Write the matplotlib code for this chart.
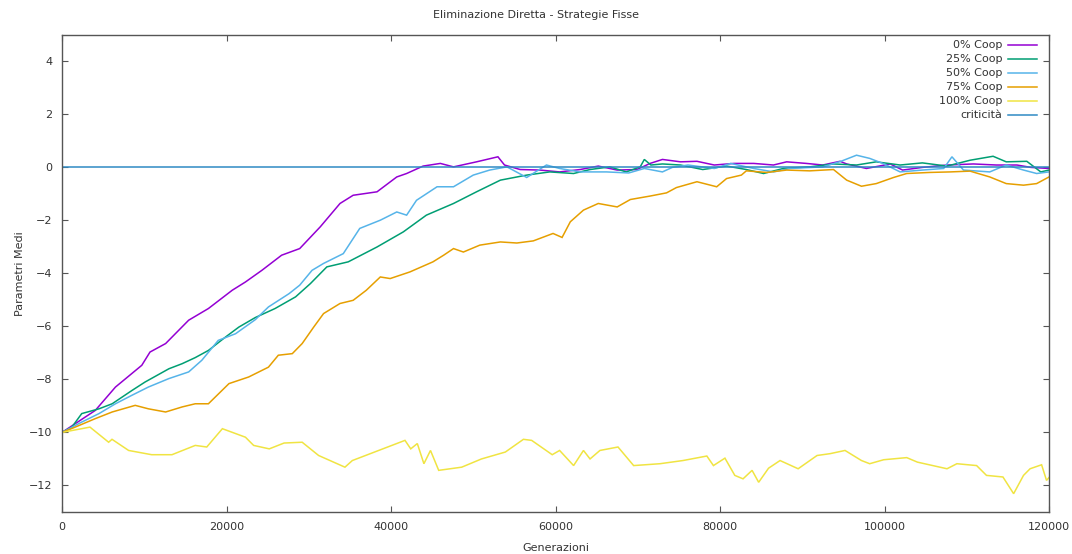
import matplotlib
matplotlib.use("Agg")
import matplotlib.pyplot as plt

# average parameter per generation, one series per share of cooperators
gen_0 = [0, 4050, 6500, 9700, 10700, 12600, 15400, 17800, 20700, 22300, 24300, 26700, 28900,
         31400, 33800, 35400, 38300, 40700, 41900, 43900, 46000, 47600, 50400, 53000, 53800,
         55700, 58100, 60500, 63000, 65200, 67500, 69900, 71500, 73000, 75200, 77200, 79300,
         81700, 84100, 86500, 88100, 90500, 92500, 94600, 95400, 97800, 100700, 102200,
         104600, 107600, 110800, 113600, 116100, 117800, 120000]
coop_0 = [-10, -9.17, -8.29, -7.47, -6.97, -6.65, -5.77, -5.33, -4.64, -4.33, -3.89, -3.32, -3.07,
          -2.25, -1.37, -1.06, -0.93, -0.37, -0.24, 0.04, 0.14, 0.01, 0.20, 0.39, 0.08,
          -0.09, -0.11, -0.18, -0.09, 0.04, -0.11, -0.09, 0.14, 0.29, 0.20, 0.22, 0.08,
          0.14, 0.14, 0.08, 0.20, 0.14, 0.08, 0.22, 0.12, -0.05, 0.12, -0.11,
          -0.01, 0.08, 0.12, 0.08, 0.08, -0.01, -0.05]

gen_25 = [0, 1200, 2400, 4500, 6100, 8500, 10100, 13000, 14600, 16200, 17800, 19900, 21500,
          23500, 25900, 28400, 30200, 32200, 34800, 38300, 41500, 44300, 47600, 50400, 53300,
          56500, 59300, 62200, 64200, 66600, 68600, 70300, 70800, 71600, 73000, 75200, 77900,
          80800, 83200, 85300, 87700, 90900, 93800, 96600, 99000, 101900, 104600, 107600,
          110400, 113200, 114800, 117300, 119000, 120000]
coop_25 = [-10, -9.8, -9.29, -9.11, -8.92, -8.42, -8.10, -7.60, -7.41, -7.18, -6.91, -6.40, -6.03,
           -5.67, -5.33, -4.89, -4.39, -3.76, -3.57, -3.01, -2.44, -1.81, -1.37, -0.93, -0.49,
           -0.30, -0.18, -0.24, -0.09, 0.01, -0.18, 0.01, 0.29, 0.08, 0.12, 0.08, -0.09,
           0.04, -0.09, -0.24, -0.05, 0.01, 0.12, 0.08, 0.20, 0.08, 0.16, 0.04,
           0.26, 0.41, 0.20, 0.22, -0.18, -0.11]

gen_50 = [0, 2400, 4500, 6500, 8500, 10500, 13000, 15400, 17000, 19000, 21100, 23500, 25100,
          27600, 28900, 30400, 31800, 34200, 36200, 38700, 40700, 41900, 43100, 45600, 47600,
          50000, 52000, 54100, 56500, 58900, 60500, 63000, 66200, 68900, 70800, 73000, 74200,
          76100, 79300, 81300, 84100, 86500, 88500, 92500, 94700, 96600, 98200, 99800,
          101900, 104600, 107200, 108200, 109600, 112800, 114800, 116900, 118500, 120000]
coop_50 = [-10, -9.61, -9.29, -8.92, -8.60, -8.29, -7.97, -7.72, -7.28, -6.53, -6.28, -5.75, -5.27,
           -4.77, -4.45, -3.89, -3.63, -3.26, -2.31, -2.0, -1.69, -1.81, -1.25, -0.74, -0.74,
           -0.30, -0.11, 0.01, -0.39, 0.08, -0.05, -0.18, -0.18, -0.22, -0.05, -0.18, -0.01,
           0.08, -0.05, 0.14, -0.05, -0.18, -0.05, 0.01, 0.22, 0.45, 0.33, 0.14,
           -0.18, -0.11, -0.05, 0.39, -0.11, -0.18, 0.08, -0.11, -0.24, -0.18]

gen_75 = [0, 1600, 4050, 6100, 8900, 10500, 12600, 14600, 16200, 17800, 20300, 22700, 25100,
          26300, 28000, 29200, 30600, 31800, 33800, 35400, 37000, 38700, 39900, 42300, 45100,
          46400, 47600, 48800, 50800, 53300, 55300, 57300, 59700, 60800, 61800, 63400, 65200,
          67500, 69100, 71500, 73500, 74700, 77200, 79600, 80800, 82600, 83200, 85700, 88100,
          90900, 93800, 95400, 97200, 99000, 101100, 102700, 105500, 108000, 110400, 112800,
          114800, 116900, 118500, 120000]
coop_75 = [-10, -9.80, -9.48, -9.23, -8.98, -9.11, -9.23, -9.04, -8.92, -8.92, -8.16, -7.91, -7.54,
           -7.09, -7.03, -6.65, -6.03, -5.52, -5.14, -5.02, -4.64, -4.14, -4.20, -3.95, -3.57,
           -3.32, -3.07, -3.20, -2.94, -2.82, -2.86, -2.78, -2.50, -2.65, -2.06, -1.62, -1.37,
           -1.50, -1.22, -1.09, -0.97, -0.77, -0.55, -0.74, -0.43, -0.30, -0.14, -0.20, -0.11,
           -0.14, -0.09, -0.49, -0.72, -0.62, -0.39, -0.24, -0.20, -0.18, -0.15, -0.37,
           -0.62, -0.68, -0.62, -0.37]

gen_100 = [0, 3400, 5670, 6080, 8100, 10900, 13370, 16200, 17600, 19500, 22300, 23300, 25200,
           27000, 29200, 31200, 34400, 35300, 41700, 42400, 43200, 44000, 44800, 45800, 48600,
           51000, 53900, 56100, 57100, 59600, 60500, 62200, 63400, 64200, 65400, 67600, 69500,
           72700, 75500, 78400, 79200, 80600, 81800, 82800, 83900, 84700, 85900, 87300, 89500,
           91800, 93400, 95200, 97200, 98200, 99900, 102700, 104000, 107600, 108800, 111200,
           112400, 114400, 115700, 116900, 117700, 119100, 119700, 120000]
coop_100 = [-10, -9.8, -10.37, -10.26, -10.68, -10.84, -10.84, -10.49, -10.55, -9.86, -10.18, -10.49, -10.62,
            -10.40, -10.37, -10.87, -11.31, -11.06, -10.30, -10.62, -10.42, -11.18, -10.68, -11.43, -11.31,
            -11.0, -10.74, -10.26, -10.30, -10.84, -10.68, -11.25, -10.68, -11.0, -10.68, -10.55, -11.25,
            -11.18, -11.06, -10.89, -11.25, -10.97, -11.62, -11.75, -11.43, -11.88, -11.35, -11.06, -11.37,
            -10.87, -10.80, -10.68, -11.06, -11.18, -11.03, -10.95, -11.12, -11.37, -11.18, -11.25,
            -11.62, -11.68, -12.31, -11.62, -11.37, -11.22, -11.81, -11.7]

gen_crit = [0, 120000]
crit = [0, 0]

labels = ["0% Coop", "25% Coop", "50% Coop", "75% Coop", "100% Coop", "criticità"]
colors = ["#9400d3", "#009e73", "#56b4e9", "#e69f00", "#f0e442", "#2f8ac4"]

TXT = "#333333"
plt.rcParams["font.family"] = ["DejaVu Sans"]

fig = plt.figure(figsize=(10.72, 5.54), dpi=100)
ax = fig.add_axes([62 / 1072, 42 / 554, 987 / 1072, 477.5 / 554])

series = [(gen_0, coop_0), (gen_25, coop_25), (gen_50, coop_50),
          (gen_75, coop_75), (gen_100, coop_100), (gen_crit, crit)]
for (x, y), c in zip(series, colors):
    ax.plot(x, y, color=c, lw=1.1, solid_joinstyle="miter")

ax.set_xlim(0, 120000)
ax.set_ylim(-13, 5)
ax.set_xticks(range(0, 120001, 20000))
ax.set_yticks(range(-12, 5, 2))
ax.tick_params(direction="in", length=4, width=0.8, colors="#555555",
               labelcolor=TXT, labelsize=8, top=True, right=True, pad=7)
for s in ax.spines.values():
    s.set_color("#555555")
    s.set_linewidth(1.0)

ax.set_xlabel("Generazioni", fontsize=8, color=TXT, labelpad=8)
ax.set_ylabel("Parametri Medi", fontsize=8, color=TXT, labelpad=3)
fig.text(0.5, 1 - 15 / 554, "Eliminazione Diretta - Strategie Fisse", ha="center",
         va="center", fontsize=8, color=TXT)

# gnuplot-style key: right-justified text with the line sample after it
for i, (lab, c) in enumerate(zip(labels, colors)):
    yy = 1 - (10.5 + 14 * i) / 477.5
    ax.text(940 / 987, yy, lab, transform=ax.transAxes, ha="right", va="center",
            fontsize=8, color=TXT)
    ax.plot([946 / 987, 975 / 987], [yy, yy], transform=ax.transAxes, color=c, lw=1.1)

fig.savefig("out.png", dpi=100, facecolor="white")
